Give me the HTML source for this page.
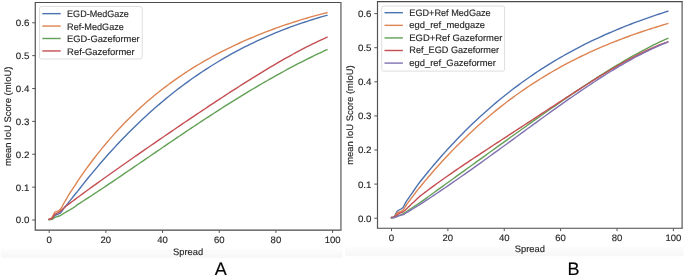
<!DOCTYPE html>
<html><head><meta charset="utf-8"><style>
html,body{margin:0;padding:0;background:#fff;width:685px;height:276px;overflow:hidden}
svg{display:block;will-change:transform}
text{font-family:'Liberation Sans',sans-serif;font-size:9.4px;text-rendering:geometricPrecision;fill:#262626;stroke:#262626;stroke-width:0.15px}
</style></head><body>
<svg width="685" height="276" viewBox="0 0 685 276">
<defs><linearGradient id="bg" x1="0" y1="0" x2="0" y2="1"><stop offset="0" stop-color="#fdfdfd"/><stop offset="0.55" stop-color="#f9f9f9"/><stop offset="1" stop-color="#f7f7f7"/></linearGradient></defs>
<rect x="1" y="248.9" width="341.9" height="9.0" fill="url(#bg)"/>
<rect x="345.2" y="246.9" width="338.5" height="9.3" fill="url(#bg)"/>
<g fill="none" stroke-width="1.4" stroke-linejoin="round" stroke-linecap="square">
<path d="M49.20,219.34 L50.62,219.03 L52.03,218.36 L53.45,216.90 L54.87,215.40 L56.29,214.77 L57.70,214.25 L59.12,213.69 L60.54,212.93 L61.95,211.10 L63.37,208.82 L64.79,207.06 L66.20,205.37 L67.62,203.66 L69.04,201.92 L70.45,200.12 L71.87,198.31 L73.29,196.48 L74.71,194.69 L76.12,193.03 L77.54,191.36 L80.37,187.71 L83.21,184.11 L86.04,180.56 L88.88,177.06 L91.71,173.60 L94.54,170.19 L97.38,166.83 L100.21,163.51 L103.05,160.24 L105.88,157.02 L108.71,153.84 L111.55,150.70 L114.38,147.61 L117.22,144.57 L120.05,141.56 L122.88,138.60 L125.72,135.68 L128.55,132.81 L131.39,129.98 L134.22,127.19 L137.05,124.44 L139.89,121.73 L142.72,119.06 L145.56,116.43 L148.39,113.84 L151.22,111.29 L154.06,108.78 L156.89,106.31 L159.73,103.88 L162.56,101.49 L165.39,99.13 L168.23,96.81 L171.06,94.53 L173.90,92.28 L176.73,90.07 L179.56,87.90 L182.40,85.76 L185.23,83.66 L188.07,81.59 L190.90,79.55 L193.73,77.55 L196.57,75.59 L199.40,73.65 L202.24,71.75 L205.07,69.88 L207.90,68.05 L210.74,66.25 L213.57,64.47 L216.41,62.73 L219.24,61.02 L222.07,59.34 L224.91,57.69 L227.74,56.07 L230.58,54.48 L233.41,52.92 L236.24,51.38 L239.08,49.88 L241.91,48.40 L244.75,46.95 L247.58,45.53 L250.41,44.13 L253.25,42.76 L256.08,41.42 L258.92,40.10 L261.75,38.81 L264.58,37.55 L267.42,36.30 L270.25,35.09 L273.09,33.89 L275.92,32.72 L278.75,31.58 L281.59,30.45 L284.42,29.35 L287.26,28.27 L290.09,27.21 L292.92,26.18 L295.76,25.17 L298.59,24.17 L301.43,23.20 L304.26,22.25 L307.09,21.31 L309.93,20.40 L312.76,19.51 L315.60,18.63 L318.43,17.77 L321.26,16.93 L324.10,16.11 L326.93,15.31" stroke="#4c72b0"/>
<path d="M49.20,219.01 L50.62,218.59 L52.03,217.60 L53.45,214.78 L54.87,212.11 L56.29,211.57 L57.70,211.13 L59.12,210.33 L60.54,209.15 L61.95,206.95 L63.37,204.22 L64.79,201.76 L66.20,199.29 L67.62,196.78 L69.04,194.36 L70.45,192.19 L71.87,190.09 L73.29,187.96 L74.71,185.82 L76.12,183.57 L77.54,181.34 L80.37,177.19 L83.21,173.14 L86.04,169.17 L88.88,165.28 L91.71,161.49 L94.54,157.77 L97.38,154.13 L100.21,150.58 L103.05,147.10 L105.88,143.69 L108.71,140.36 L111.55,137.10 L114.38,133.91 L117.22,130.79 L120.05,127.74 L122.88,124.75 L125.72,121.83 L128.55,118.97 L131.39,116.17 L134.22,113.43 L137.05,110.75 L139.89,108.12 L142.72,105.55 L145.56,103.04 L148.39,100.58 L151.22,98.17 L154.06,95.81 L156.89,93.50 L159.73,91.24 L162.56,89.03 L165.39,86.86 L168.23,84.73 L171.06,82.65 L173.90,80.61 L176.73,78.62 L179.56,76.66 L182.40,74.74 L185.23,72.86 L188.07,71.02 L190.90,69.21 L193.73,67.44 L196.57,65.70 L199.40,64.00 L202.24,62.33 L205.07,60.69 L207.90,59.09 L210.74,57.51 L213.57,55.96 L216.41,54.44 L219.24,52.95 L222.07,51.49 L224.91,50.06 L227.74,48.65 L230.58,47.26 L233.41,45.90 L236.24,44.57 L239.08,43.26 L241.91,41.97 L244.75,40.71 L247.58,39.46 L250.41,38.24 L253.25,37.04 L256.08,35.87 L258.92,34.71 L261.75,33.58 L264.58,32.46 L267.42,31.36 L270.25,30.29 L273.09,29.23 L275.92,28.19 L278.75,27.18 L281.59,26.18 L284.42,25.20 L287.26,24.23 L290.09,23.29 L292.92,22.36 L295.76,21.46 L298.59,20.57 L301.43,19.70 L304.26,18.85 L307.09,18.01 L309.93,17.20 L312.76,16.40 L315.60,15.62 L318.43,14.87 L321.26,14.13 L324.10,13.41 L326.93,12.70" stroke="#dd8452"/>
<path d="M49.20,219.67 L50.62,219.58 L52.03,219.34 L53.45,218.33 L54.87,217.21 L56.29,216.84 L57.70,216.52 L59.12,216.02 L60.54,215.40 L61.95,214.54 L63.37,213.59 L64.79,212.76 L66.20,211.95 L67.62,211.13 L69.04,210.30 L70.45,209.49 L71.87,208.66 L73.29,207.79 L74.71,206.85 L76.12,205.75 L77.54,204.65 L80.37,202.84 L83.21,201.01 L86.04,199.18 L88.88,197.34 L91.71,195.48 L94.54,193.62 L97.38,191.75 L100.21,189.88 L103.05,187.99 L105.88,186.10 L108.71,184.20 L111.55,182.30 L114.38,180.39 L117.22,178.47 L120.05,176.55 L122.88,174.63 L125.72,172.70 L128.55,170.77 L131.39,168.84 L134.22,166.91 L137.05,164.97 L139.89,163.03 L142.72,161.09 L145.56,159.16 L148.39,157.22 L151.22,155.28 L154.06,153.34 L156.89,151.40 L159.73,149.47 L162.56,147.53 L165.39,145.60 L168.23,143.67 L171.06,141.75 L173.90,139.83 L176.73,137.91 L179.56,135.99 L182.40,134.08 L185.23,132.18 L188.07,130.28 L190.90,128.39 L193.73,126.50 L196.57,124.62 L199.40,122.74 L202.24,120.87 L205.07,119.01 L207.90,117.16 L210.74,115.31 L213.57,113.48 L216.41,111.65 L219.24,109.83 L222.07,108.02 L224.91,106.21 L227.74,104.42 L230.58,102.64 L233.41,100.87 L236.24,99.11 L239.08,97.36 L241.91,95.62 L244.75,93.89 L247.58,92.17 L250.41,90.47 L253.25,88.77 L256.08,87.09 L258.92,85.42 L261.75,83.77 L264.58,82.12 L267.42,80.49 L270.25,78.88 L273.09,77.27 L275.92,75.68 L278.75,74.11 L281.59,72.55 L284.42,71.00 L287.26,69.47 L290.09,67.95 L292.92,66.45 L295.76,64.96 L298.59,63.48 L301.43,62.03 L304.26,60.58 L307.09,59.16 L309.93,57.75 L312.76,56.35 L315.60,54.97 L318.43,53.61 L321.26,52.26 L324.10,50.93 L326.93,49.62" stroke="#62a055"/>
<path d="M49.20,219.34 L50.62,219.02 L52.03,218.29 L53.45,216.35 L54.87,214.31 L56.29,213.54 L57.70,212.90 L59.12,212.08 L60.54,211.13 L61.95,209.86 L63.37,208.50 L64.79,207.23 L66.20,206.03 L67.62,204.94 L69.04,203.89 L70.45,202.83 L71.87,201.76 L73.29,200.69 L74.71,199.62 L76.12,198.58 L77.54,197.54 L80.37,195.44 L83.21,193.36 L86.04,191.29 L88.88,189.22 L91.71,187.17 L94.54,185.12 L97.38,183.08 L100.21,181.04 L103.05,179.01 L105.88,176.99 L108.71,174.97 L111.55,172.96 L114.38,170.95 L117.22,168.95 L120.05,166.96 L122.88,164.96 L125.72,162.98 L128.55,160.99 L131.39,159.01 L134.22,157.04 L137.05,155.07 L139.89,153.10 L142.72,151.13 L145.56,149.17 L148.39,147.21 L151.22,145.26 L154.06,143.31 L156.89,141.36 L159.73,139.41 L162.56,137.47 L165.39,135.53 L168.23,133.59 L171.06,131.65 L173.90,129.72 L176.73,127.79 L179.56,125.87 L182.40,123.95 L185.23,122.03 L188.07,120.11 L190.90,118.20 L193.73,116.30 L196.57,114.39 L199.40,112.49 L202.24,110.60 L205.07,108.71 L207.90,106.82 L210.74,104.94 L213.57,103.07 L216.41,101.20 L219.24,99.33 L222.07,97.47 L224.91,95.62 L227.74,93.78 L230.58,91.94 L233.41,90.11 L236.24,88.29 L239.08,86.48 L241.91,84.67 L244.75,82.87 L247.58,81.09 L250.41,79.31 L253.25,77.55 L256.08,75.79 L258.92,74.05 L261.75,72.32 L264.58,70.60 L267.42,68.90 L270.25,67.20 L273.09,65.53 L275.92,63.86 L278.75,62.22 L281.59,60.59 L284.42,58.97 L287.26,57.38 L290.09,55.80 L292.92,54.24 L295.76,52.70 L298.59,51.18 L301.43,49.68 L304.26,48.20 L307.09,46.74 L309.93,45.31 L312.76,43.90 L315.60,42.52 L318.43,41.16 L321.26,39.83 L324.10,38.53 L326.93,37.25" stroke="#c44e52"/>
</g>
<path d="M34.80,2.50H341.50M34.80,230.15H341.50" stroke="#4a4a4a" stroke-width="1.1" fill="none"/>
<path d="M35.30,2.50V230.15" stroke="#626262" stroke-width="1.35" fill="none"/>
<path d="M340.90,2.50V230.15" stroke="#8a8a8a" stroke-width="1.7" fill="none"/>
<path d="M32.20,220.00H35.40 M32.20,187.13H35.40 M32.20,154.26H35.40 M32.20,121.39H35.40 M32.20,88.52H35.40 M32.20,55.65H35.40 M32.20,22.78H35.40 M49.20,230.15V232.95 M105.88,230.15V232.95 M162.56,230.15V232.95 M219.24,230.15V232.95 M275.92,230.15V232.95 M332.60,230.15V232.95" stroke="#555" stroke-width="1.0" fill="none"/>
<text x="29.40" y="223.40" text-anchor="end" textLength="13.6" lengthAdjust="spacingAndGlyphs">0.0</text>
<text x="29.40" y="190.53" text-anchor="end" textLength="13.6" lengthAdjust="spacingAndGlyphs">0.1</text>
<text x="29.40" y="157.66" text-anchor="end" textLength="13.6" lengthAdjust="spacingAndGlyphs">0.2</text>
<text x="29.40" y="124.79" text-anchor="end" textLength="13.6" lengthAdjust="spacingAndGlyphs">0.3</text>
<text x="29.40" y="91.92" text-anchor="end" textLength="13.6" lengthAdjust="spacingAndGlyphs">0.4</text>
<text x="29.40" y="59.05" text-anchor="end" textLength="13.6" lengthAdjust="spacingAndGlyphs">0.5</text>
<text x="29.40" y="26.18" text-anchor="end" textLength="13.6" lengthAdjust="spacingAndGlyphs">0.6</text>
<text x="46.50" y="242.85" textLength="5.4" lengthAdjust="spacingAndGlyphs">0</text>
<text x="100.58" y="242.85" textLength="10.6" lengthAdjust="spacingAndGlyphs">20</text>
<text x="157.26" y="242.85" textLength="10.6" lengthAdjust="spacingAndGlyphs">40</text>
<text x="213.94" y="242.85" textLength="10.6" lengthAdjust="spacingAndGlyphs">60</text>
<text x="270.62" y="242.85" textLength="10.6" lengthAdjust="spacingAndGlyphs">80</text>
<text x="324.65" y="242.85" textLength="15.9" lengthAdjust="spacingAndGlyphs">100</text>
<rect x="39.5" y="6.5" width="102.69999999999999" height="52.5" rx="2" fill="#fff" fill-opacity="0.8" stroke="#d6d6d6" stroke-width="0.8"/>
<path d="M42.30,13.65H60.70" stroke="#4c72b0" stroke-width="1.4"/>
<text x="67.10" y="17.30" textLength="61.8" lengthAdjust="spacingAndGlyphs">EGD-MedGaze</text>
<path d="M42.30,26.05H60.70" stroke="#dd8452" stroke-width="1.4"/>
<text x="67.10" y="29.70" textLength="56.8" lengthAdjust="spacingAndGlyphs">Ref-MedGaze</text>
<path d="M42.30,38.50H60.70" stroke="#62a055" stroke-width="1.4"/>
<text x="67.10" y="42.15" textLength="72.6" lengthAdjust="spacingAndGlyphs">EGD-Gazeformer</text>
<path d="M42.30,50.95H60.70" stroke="#c44e52" stroke-width="1.4"/>
<text x="67.10" y="54.50" textLength="67.6" lengthAdjust="spacingAndGlyphs">Ref-Gazeformer</text>
<g fill="none" stroke-width="1.4" stroke-linejoin="round" stroke-linecap="square">
<path d="M391.50,217.52 L392.91,217.22 L394.32,216.49 L395.73,213.96 L397.14,211.21 L398.55,210.25 L399.96,209.50 L401.37,208.76 L402.78,207.80 L404.19,205.47 L405.60,202.62 L407.00,200.46 L408.41,198.42 L409.82,196.37 L411.23,194.33 L412.64,192.28 L414.05,190.24 L415.46,188.18 L416.87,186.15 L418.28,184.18 L419.69,182.29 L422.51,178.74 L425.33,175.24 L428.15,171.79 L430.97,168.40 L433.78,165.05 L436.60,161.75 L439.42,158.50 L442.24,155.30 L445.06,152.15 L447.88,149.04 L450.70,145.98 L453.52,142.96 L456.34,139.99 L459.16,137.07 L461.98,134.19 L464.79,131.35 L467.61,128.55 L470.43,125.80 L473.25,123.09 L476.07,120.43 L478.89,117.80 L481.71,115.21 L484.53,112.67 L487.35,110.16 L490.16,107.70 L492.98,105.27 L495.80,102.88 L498.62,100.53 L501.44,98.21 L504.26,95.93 L507.08,93.69 L509.90,91.48 L512.72,89.31 L515.54,87.18 L518.36,85.08 L521.17,83.01 L523.99,80.97 L526.81,78.97 L529.63,77.00 L532.45,75.07 L535.27,73.16 L538.09,71.29 L540.91,69.44 L543.73,67.63 L546.54,65.84 L549.36,64.09 L552.18,62.36 L555.00,60.67 L557.82,59.00 L560.64,57.35 L563.46,55.74 L566.28,54.15 L569.10,52.59 L571.92,51.05 L574.74,49.54 L577.55,48.06 L580.37,46.60 L583.19,45.16 L586.01,43.74 L588.83,42.35 L591.65,40.99 L594.47,39.64 L597.29,38.32 L600.11,37.02 L602.92,35.74 L605.74,34.48 L608.56,33.24 L611.38,32.02 L614.20,30.82 L617.02,29.64 L619.84,28.48 L622.66,27.34 L625.48,26.21 L628.30,25.10 L631.12,24.01 L633.93,22.94 L636.75,21.89 L639.57,20.84 L642.39,19.82 L645.21,18.81 L648.03,17.82 L650.85,16.84 L653.67,15.87 L656.49,14.92 L659.31,13.99 L662.12,13.06 L664.94,12.15 L667.76,11.25" stroke="#4c72b0"/>
<path d="M391.50,217.52 L392.91,217.32 L394.32,216.84 L395.73,214.96 L397.14,212.91 L398.55,212.25 L399.96,211.72 L401.37,211.14 L402.78,210.36 L404.19,208.57 L405.60,206.26 L407.00,204.20 L408.41,202.17 L409.82,200.28 L411.23,198.42 L412.64,196.55 L414.05,194.67 L415.46,192.78 L416.87,190.92 L418.28,189.17 L419.69,187.46 L422.51,184.02 L425.33,180.63 L428.15,177.29 L430.97,174.00 L433.78,170.76 L436.60,167.56 L439.42,164.41 L442.24,161.31 L445.06,158.26 L447.88,155.25 L450.70,152.29 L453.52,149.37 L456.34,146.50 L459.16,143.67 L461.98,140.88 L464.79,138.14 L467.61,135.44 L470.43,132.78 L473.25,130.16 L476.07,127.58 L478.89,125.05 L481.71,122.55 L484.53,120.09 L487.35,117.67 L490.16,115.30 L492.98,112.95 L495.80,110.65 L498.62,108.38 L501.44,106.15 L504.26,103.96 L507.08,101.80 L509.90,99.68 L512.72,97.59 L515.54,95.54 L518.36,93.52 L521.17,91.53 L523.99,89.58 L526.81,87.66 L529.63,85.77 L532.45,83.91 L535.27,82.09 L538.09,80.29 L540.91,78.53 L543.73,76.79 L546.54,75.09 L549.36,73.41 L552.18,71.76 L555.00,70.14 L557.82,68.55 L560.64,66.98 L563.46,65.44 L566.28,63.93 L569.10,62.44 L571.92,60.98 L574.74,59.55 L577.55,58.14 L580.37,56.75 L583.19,55.39 L586.01,54.05 L588.83,52.73 L591.65,51.44 L594.47,50.16 L597.29,48.91 L600.11,47.68 L602.92,46.48 L605.74,45.29 L608.56,44.12 L611.38,42.97 L614.20,41.84 L617.02,40.73 L619.84,39.64 L622.66,38.57 L625.48,37.51 L628.30,36.48 L631.12,35.46 L633.93,34.45 L636.75,33.46 L639.57,32.49 L642.39,31.53 L645.21,30.59 L648.03,29.67 L650.85,28.75 L653.67,27.85 L656.49,26.97 L659.31,26.10 L662.12,25.24 L664.94,24.39 L667.76,23.56" stroke="#dd8452"/>
<path d="M391.50,217.86 L392.91,217.76 L394.32,217.52 L395.73,216.91 L397.14,216.15 L398.55,215.63 L399.96,215.13 L401.37,214.57 L402.78,213.94 L404.19,213.13 L405.60,212.23 L407.00,211.31 L408.41,210.36 L409.82,209.42 L411.23,208.48 L412.64,207.54 L414.05,206.61 L415.46,205.67 L416.87,204.73 L418.28,203.82 L419.69,202.89 L422.51,200.85 L425.33,198.81 L428.15,196.77 L430.97,194.74 L433.78,192.70 L436.60,190.66 L439.42,188.63 L442.24,186.59 L445.06,184.55 L447.88,182.52 L450.70,180.48 L453.52,178.45 L456.34,176.41 L459.16,174.38 L461.98,172.34 L464.79,170.31 L467.61,168.27 L470.43,166.24 L473.25,164.20 L476.07,162.17 L478.89,160.13 L481.71,158.10 L484.53,156.06 L487.35,154.03 L490.16,152.00 L492.98,149.97 L495.80,147.94 L498.62,145.91 L501.44,143.88 L504.26,141.85 L507.08,139.82 L509.90,137.80 L512.72,135.78 L515.54,133.75 L518.36,131.74 L521.17,129.72 L523.99,127.71 L526.81,125.70 L529.63,123.69 L532.45,121.69 L535.27,119.69 L538.09,117.70 L540.91,115.71 L543.73,113.72 L546.54,111.74 L549.36,109.77 L552.18,107.80 L555.00,105.84 L557.82,103.88 L560.64,101.93 L563.46,99.99 L566.28,98.06 L569.10,96.14 L571.92,94.22 L574.74,92.31 L577.55,90.42 L580.37,88.53 L583.19,86.66 L586.01,84.79 L588.83,82.94 L591.65,81.10 L594.47,79.27 L597.29,77.46 L600.11,75.66 L602.92,73.88 L605.74,72.11 L608.56,70.35 L611.38,68.61 L614.20,66.89 L617.02,65.19 L619.84,63.51 L622.66,61.84 L625.48,60.19 L628.30,58.57 L631.12,56.96 L633.93,55.38 L636.75,53.82 L639.57,52.28 L642.39,50.77 L645.21,49.28 L648.03,47.82 L650.85,46.38 L653.67,44.97 L656.49,43.58 L659.31,42.23 L662.12,40.91 L664.94,39.61 L667.76,38.35" stroke="#62a055"/>
<path d="M391.50,217.52 L392.91,217.37 L394.32,217.01 L395.73,215.98 L397.14,214.69 L398.55,213.81 L399.96,213.08 L401.37,212.56 L402.78,211.99 L404.19,210.95 L405.60,209.67 L407.00,208.41 L408.41,207.08 L409.82,205.64 L411.23,204.22 L412.64,203.02 L414.05,201.83 L415.46,200.49 L416.87,199.10 L418.28,197.73 L419.69,196.43 L422.51,194.27 L425.33,192.13 L428.15,190.01 L430.97,187.92 L433.78,185.85 L436.60,183.80 L439.42,181.77 L442.24,179.76 L445.06,177.77 L447.88,175.79 L450.70,173.83 L453.52,171.88 L456.34,169.95 L459.16,168.02 L461.98,166.11 L464.79,164.20 L467.61,162.31 L470.43,160.42 L473.25,158.54 L476.07,156.67 L478.89,154.80 L481.71,152.94 L484.53,151.08 L487.35,149.22 L490.16,147.37 L492.98,145.52 L495.80,143.68 L498.62,141.83 L501.44,139.99 L504.26,138.14 L507.08,136.30 L509.90,134.46 L512.72,132.62 L515.54,130.78 L518.36,128.94 L521.17,127.10 L523.99,125.25 L526.81,123.41 L529.63,121.57 L532.45,119.73 L535.27,117.88 L538.09,116.04 L540.91,114.20 L543.73,112.35 L546.54,110.51 L549.36,108.67 L552.18,106.83 L555.00,104.99 L557.82,103.15 L560.64,101.31 L563.46,99.48 L566.28,97.65 L569.10,95.83 L571.92,94.01 L574.74,92.19 L577.55,90.38 L580.37,88.58 L583.19,86.78 L586.01,84.99 L588.83,83.22 L591.65,81.45 L594.47,79.69 L597.29,77.94 L600.11,76.21 L602.92,74.49 L605.74,72.79 L608.56,71.10 L611.38,69.43 L614.20,67.78 L617.02,66.14 L619.84,64.53 L622.66,62.94 L625.48,61.38 L628.30,59.84 L631.12,58.32 L633.93,56.84 L636.75,55.38 L639.57,53.96 L642.39,52.57 L645.21,51.21 L648.03,49.89 L650.85,48.61 L653.67,47.36 L656.49,46.16 L659.31,45.01 L662.12,43.89 L664.94,42.83 L667.76,41.81" stroke="#c44e52"/>
<path d="M391.50,217.86 L392.91,217.75 L394.32,217.52 L395.73,217.07 L397.14,216.49 L398.55,215.96 L399.96,215.47 L401.37,215.15 L402.78,214.79 L404.19,214.11 L405.60,213.26 L407.00,212.41 L408.41,211.55 L409.82,210.70 L411.23,209.85 L412.64,209.00 L414.05,208.14 L415.46,207.25 L416.87,206.37 L418.28,205.51 L419.69,204.65 L422.51,202.81 L425.33,200.96 L428.15,199.10 L430.97,197.23 L433.78,195.35 L436.60,193.46 L439.42,191.57 L442.24,189.66 L445.06,187.74 L447.88,185.81 L450.70,183.87 L453.52,181.93 L456.34,179.98 L459.16,178.01 L461.98,176.05 L464.79,174.07 L467.61,172.08 L470.43,170.09 L473.25,168.09 L476.07,166.09 L478.89,164.08 L481.71,162.06 L484.53,160.04 L487.35,158.01 L490.16,155.97 L492.98,153.94 L495.80,151.90 L498.62,149.85 L501.44,147.80 L504.26,145.75 L507.08,143.70 L509.90,141.64 L512.72,139.59 L515.54,137.53 L518.36,135.47 L521.17,133.41 L523.99,131.35 L526.81,129.30 L529.63,127.24 L532.45,125.19 L535.27,123.14 L538.09,121.09 L540.91,119.05 L543.73,117.01 L546.54,114.97 L549.36,112.94 L552.18,110.92 L555.00,108.90 L557.82,106.89 L560.64,104.89 L563.46,102.90 L566.28,100.91 L569.10,98.94 L571.92,96.98 L574.74,95.03 L577.55,93.09 L580.37,91.16 L583.19,89.24 L586.01,87.34 L588.83,85.46 L591.65,83.59 L594.47,81.74 L597.29,79.90 L600.11,78.09 L602.92,76.29 L605.74,74.51 L608.56,72.75 L611.38,71.02 L614.20,69.30 L617.02,67.61 L619.84,65.94 L622.66,64.30 L625.48,62.68 L628.30,61.09 L631.12,59.53 L633.93,57.99 L636.75,56.49 L639.57,55.02 L642.39,53.57 L645.21,52.16 L648.03,50.78 L650.85,49.44 L653.67,48.13 L656.49,46.86 L659.31,45.62 L662.12,44.43 L664.94,43.27 L667.76,42.15" stroke="#8172b3"/>
</g>
<path d="M376.90,1.65H682.70M376.90,228.30H682.70" stroke="#4a4a4a" stroke-width="1.1" fill="none"/>
<path d="M377.50,1.65V228.30" stroke="#555" stroke-width="1.2" fill="none"/>
<path d="M682.10,1.65V228.30" stroke="#4a4a4a" stroke-width="1.1" fill="none"/>
<path d="M374.30,218.20H377.50 M374.30,184.10H377.50 M374.30,150.00H377.50 M374.30,115.90H377.50 M374.30,81.80H377.50 M374.30,47.70H377.50 M374.30,13.60H377.50 M391.50,228.30V231.10 M447.88,228.30V231.10 M504.26,228.30V231.10 M560.64,228.30V231.10 M617.02,228.30V231.10 M673.40,228.30V231.10" stroke="#555" stroke-width="1.0" fill="none"/>
<text x="371.50" y="221.60" text-anchor="end" textLength="13.6" lengthAdjust="spacingAndGlyphs">0.0</text>
<text x="371.50" y="187.50" text-anchor="end" textLength="13.6" lengthAdjust="spacingAndGlyphs">0.1</text>
<text x="371.50" y="153.40" text-anchor="end" textLength="13.6" lengthAdjust="spacingAndGlyphs">0.2</text>
<text x="371.50" y="119.30" text-anchor="end" textLength="13.6" lengthAdjust="spacingAndGlyphs">0.3</text>
<text x="371.50" y="85.20" text-anchor="end" textLength="13.6" lengthAdjust="spacingAndGlyphs">0.4</text>
<text x="371.50" y="51.10" text-anchor="end" textLength="13.6" lengthAdjust="spacingAndGlyphs">0.5</text>
<text x="371.50" y="17.00" text-anchor="end" textLength="13.6" lengthAdjust="spacingAndGlyphs">0.6</text>
<text x="388.80" y="241.00" textLength="5.4" lengthAdjust="spacingAndGlyphs">0</text>
<text x="442.58" y="241.00" textLength="10.6" lengthAdjust="spacingAndGlyphs">20</text>
<text x="498.96" y="241.00" textLength="10.6" lengthAdjust="spacingAndGlyphs">40</text>
<text x="555.34" y="241.00" textLength="10.6" lengthAdjust="spacingAndGlyphs">60</text>
<text x="611.72" y="241.00" textLength="10.6" lengthAdjust="spacingAndGlyphs">80</text>
<text x="665.45" y="241.00" textLength="15.9" lengthAdjust="spacingAndGlyphs">100</text>
<rect x="381.7" y="6.0" width="122.90000000000003" height="65.1" rx="2" fill="#fff" fill-opacity="0.8" stroke="#d6d6d6" stroke-width="0.8"/>
<path d="M384.50,12.70H402.90" stroke="#4c72b0" stroke-width="1.4"/>
<text x="409.30" y="15.60" textLength="81.4" lengthAdjust="spacingAndGlyphs">EGD+Ref MedGaze</text>
<path d="M384.50,25.35H402.90" stroke="#dd8452" stroke-width="1.4"/>
<text x="409.30" y="28.20" textLength="75.8" lengthAdjust="spacingAndGlyphs">egd_ref_medgaze</text>
<path d="M384.50,37.95H402.90" stroke="#62a055" stroke-width="1.4"/>
<text x="409.30" y="40.80" textLength="93.0" lengthAdjust="spacingAndGlyphs">EGD+Ref Gazeformer</text>
<path d="M384.50,50.50H402.90" stroke="#c44e52" stroke-width="1.4"/>
<text x="409.30" y="53.40" textLength="89.8" lengthAdjust="spacingAndGlyphs">Ref_EGD Gazeformer</text>
<path d="M384.50,63.10H402.90" stroke="#8172b3" stroke-width="1.4"/>
<text x="409.30" y="66.00" textLength="86.6" lengthAdjust="spacingAndGlyphs">egd_ref_Gazeformer</text>
<text x="188.15" y="254.5" text-anchor="middle" textLength="30.1" lengthAdjust="spacingAndGlyphs">Spread</text>
<text x="529.80" y="252.4" text-anchor="middle" textLength="30.1" lengthAdjust="spacingAndGlyphs">Spread</text>
<text transform="translate(10.9,116.33) rotate(-90)" text-anchor="middle" textLength="99.5" lengthAdjust="spacingAndGlyphs">mean IoU Score (mIoU)</text>
<text transform="translate(353.3,114.98) rotate(-90)" text-anchor="middle" textLength="99.5" lengthAdjust="spacingAndGlyphs">mean IoU Score (mIoU)</text>
<text x="220.8" y="274.6" text-anchor="middle" style="font-size:18px;fill:#000">A</text>
<text x="573.5" y="274.6" text-anchor="middle" style="font-size:18px;fill:#000">B</text>
</svg>
</body></html>
